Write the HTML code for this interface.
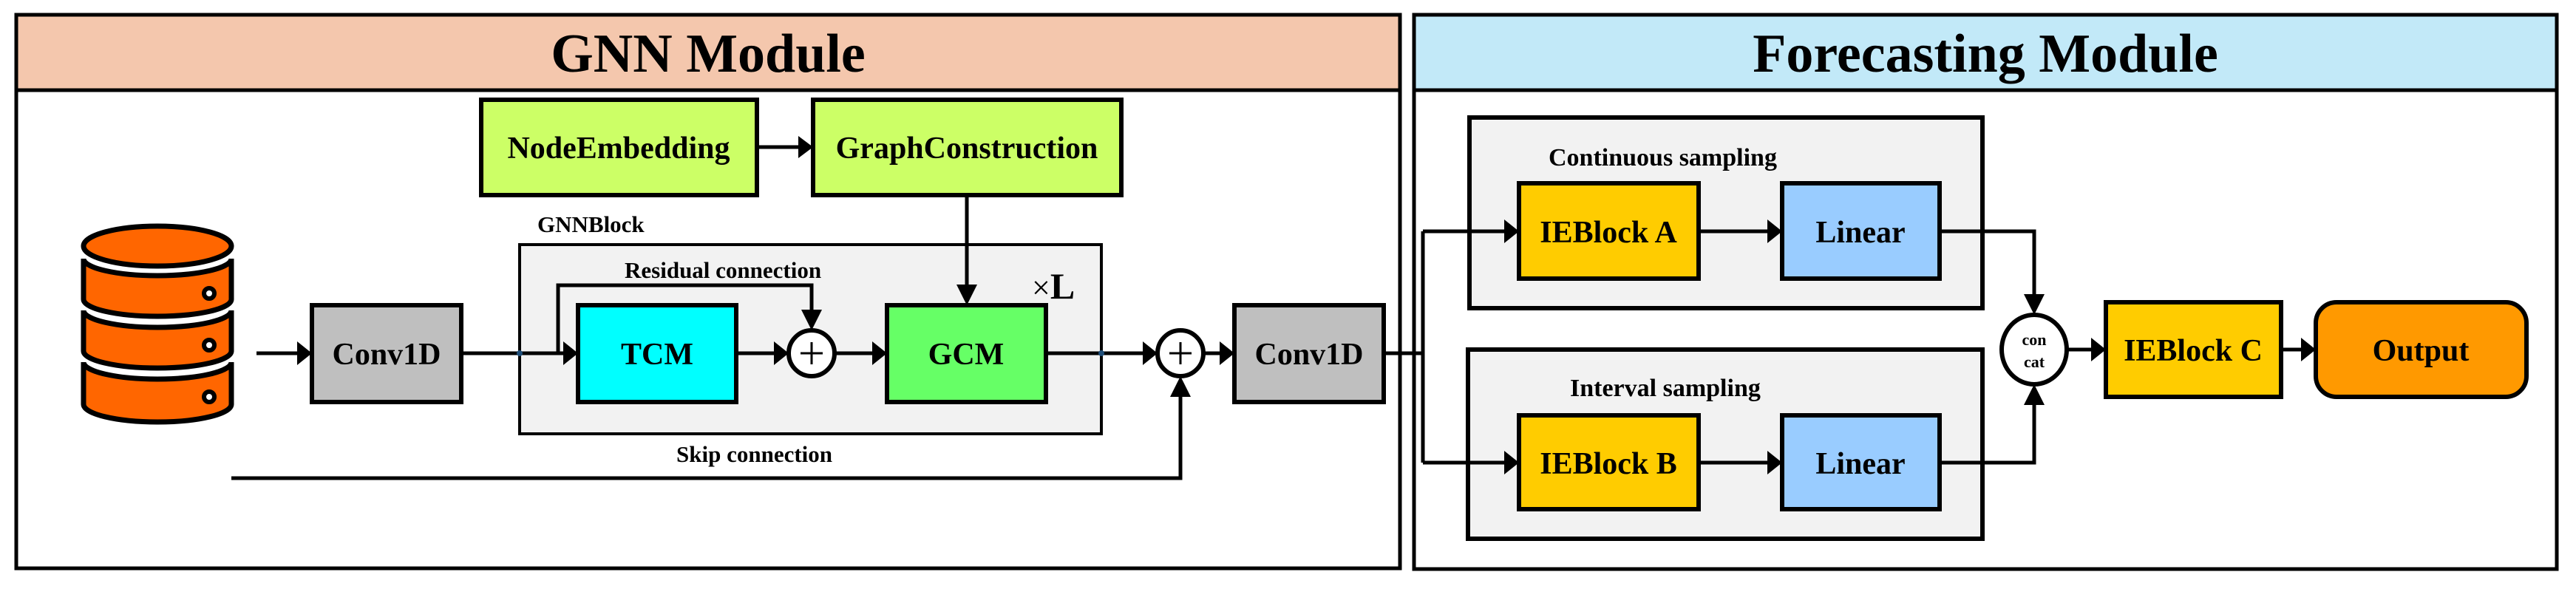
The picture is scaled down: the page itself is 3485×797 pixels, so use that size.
<!DOCTYPE html>
<html><head><meta charset="utf-8"><style>
html,body{margin:0;padding:0;background:#fff;}
svg{display:block;}
text{font-family:"Liberation Serif",serif;font-weight:bold;fill:#000;}
</style></head><body>
<svg width="3485" height="797" viewBox="0 0 3485 797" xmlns="http://www.w3.org/2000/svg">
<!-- GNN module -->
<rect x="22" y="20" width="1872" height="749" fill="#fff" stroke="#000" stroke-width="5"/>
<rect x="22" y="20" width="1872" height="102" fill="#f4c7ad" stroke="#000" stroke-width="5"/>
<text x="958" y="97" font-size="74" text-anchor="middle">GNN Module</text>
<!-- Forecast module -->
<rect x="1913" y="20" width="1546" height="750" fill="#fff" stroke="#000" stroke-width="5"/>
<rect x="1913" y="20" width="1546" height="102" fill="#c2e9f8" stroke="#000" stroke-width="5"/>
<text x="2686" y="97" font-size="74" text-anchor="middle">Forecasting Module</text>

<!-- database -->
<g stroke="#000" stroke-width="7" fill="#ff6600">
<path d="M113,490 A100,23 0 0 0 313,490 L313,547 A100,24 0 0 1 113,547 Z"/>
<path d="M113,420 A100,23 0 0 0 313,420 L313,475 A100,23 0 0 1 113,475 Z"/>
<path d="M113,350 A100,23 0 0 0 313,350 L313,405 A100,23 0 0 1 113,405 Z"/>
<ellipse cx="213" cy="333" rx="100" ry="27"/>
</g>
<g fill="#fff" stroke="#000" stroke-width="6">
<circle cx="283" cy="397" r="7"/><circle cx="283" cy="467" r="7"/><circle cx="283" cy="537" r="7"/>
</g>

<!-- boxes -->
<g stroke="#000" stroke-width="6">
<rect x="651" y="135" width="373" height="129" fill="#ccff66"/>
<rect x="1100" y="135" width="417" height="129" fill="#ccff66"/>
<rect x="703" y="331" width="787" height="256" fill="#f2f2f2" stroke-width="4"/>
<rect x="422" y="413" width="202" height="131" fill="#bfbfbf"/>
<rect x="782" y="413" width="214" height="131" fill="#00ffff"/>
<rect x="1200" y="413" width="215" height="131" fill="#66ff66"/>
<rect x="1670" y="413" width="202" height="131" fill="#bfbfbf"/>
<circle cx="1098" cy="478" r="31" fill="#fff"/>
<circle cx="1597" cy="478" r="31" fill="#fff"/>

<rect x="1988" y="159" width="694" height="258" fill="#f2f2f2"/>
<rect x="1986" y="473" width="696" height="256" fill="#f2f2f2"/>
<rect x="2055" y="248" width="243" height="129" fill="#ffcc00"/>
<rect x="2411" y="248" width="213" height="129" fill="#99ccff"/>
<rect x="2055" y="562" width="243" height="127" fill="#ffcc00"/>
<rect x="2411" y="562" width="213" height="127" fill="#99ccff"/>
<rect x="2849" y="409" width="237" height="128" fill="#ffcc00"/>
<rect x="3133" y="409" width="285" height="128" rx="28" fill="#ff9900"/>
<ellipse cx="2752" cy="473" rx="44" ry="47" fill="#fff"/>
</g>

<!-- lines -->
<g stroke="#000" stroke-width="5" fill="none">
<path d="M1024,199 H1085"/>
<path d="M1308,264 V398"/>
<path d="M347,478 H405"/>
<path d="M624,478 H765"/>
<path d="M755,478 V386 H1098 V430"/>
<path d="M996,478 H1050"/>
<path d="M1129,478 H1183"/>
<path d="M1415,478 H1549"/>
<path d="M1628,478 H1654"/>
<path d="M313,647 H1597 V528"/>
<path d="M1872,478 H1925 M1925,313 V626 M1925,313 H2038 M1925,626 H2038"/>
<path d="M2298,313 H2394 M2298,626 H2394"/>
<path d="M2624,313 H2752 V408"/>
<path d="M2624,626 H2752 V538"/>
<path d="M2796,473 H2832"/>
<path d="M3086,473 H3116"/>
</g>
<!-- arrowheads -->
<g fill="#000">
<polygon points="1100,199 1080,184 1080,214"/>
<polygon points="1308,413 1294,385 1322,385"/>
<polygon points="422,478 402,462 402,494"/>
<polygon points="782,478 762,462 762,494"/>
<polygon points="1098,447 1084,419 1112,419"/>
<polygon points="1067,478 1047,462 1047,494"/>
<polygon points="1200,478 1180,462 1180,494"/>
<polygon points="1566,478 1546,462 1546,494"/>
<polygon points="1670,478 1650,462 1650,494"/>
<polygon points="1597,509 1583,537 1611,537"/>
<polygon points="2055,313 2035,297 2035,329"/>
<polygon points="2055,626 2035,610 2035,642"/>
<polygon points="2411,313 2391,297 2391,329"/>
<polygon points="2411,626 2391,610 2391,642"/>
<polygon points="2752,426 2738,398 2766,398"/>
<polygon points="2752,520 2738,548 2766,548"/>
<polygon points="2849,473 2829,457 2829,489"/>
<polygon points="3133,473 3113,457 3113,489"/>
</g>
<g fill="#1f4e79"><circle cx="703" cy="478" r="4"/><circle cx="1490" cy="478" r="4"/></g>
<g stroke="#000" stroke-width="3"><path d="M1083,478 H1113 M1098,463 V493 M1582,478 H1612 M1597,463 V493"/></g>

<!-- labels -->
<g font-size="42" text-anchor="middle">
<text x="837" y="214">NodeEmbedding</text>
<text x="1308" y="214">GraphConstruction</text>
<text x="523" y="493">Conv1D</text>
<text x="889" y="493">TCM</text>
<text x="1307" y="493">GCM</text>
<text x="1771" y="493">Conv1D</text>
<text x="2176" y="328">IEBlock A</text>
<text x="2517" y="328">Linear</text>
<text x="2176" y="641">IEBlock B</text>
<text x="2517" y="641">Linear</text>
<text x="2967" y="488">IEBlock C</text>
<text x="3275" y="488">Output</text>
</g>
<g font-size="31">
<text x="727" y="314">GNNBlock</text>
<text x="845" y="376">Residual connection</text>
<text x="915" y="625">Skip connection</text>
<text x="2095" y="224" font-size="34">Continuous sampling</text>
<text x="2124" y="536" font-size="34">Interval sampling</text>
</g>
<text x="1396" y="404" font-size="44" font-weight="normal" style="font-weight:normal">×<tspan font-weight="bold" font-size="50">L</tspan></text>
<g font-size="22" text-anchor="middle">
<text x="2752" y="467">con</text>
<text x="2752" y="497">cat</text>
</g>
</svg>
</body></html>
